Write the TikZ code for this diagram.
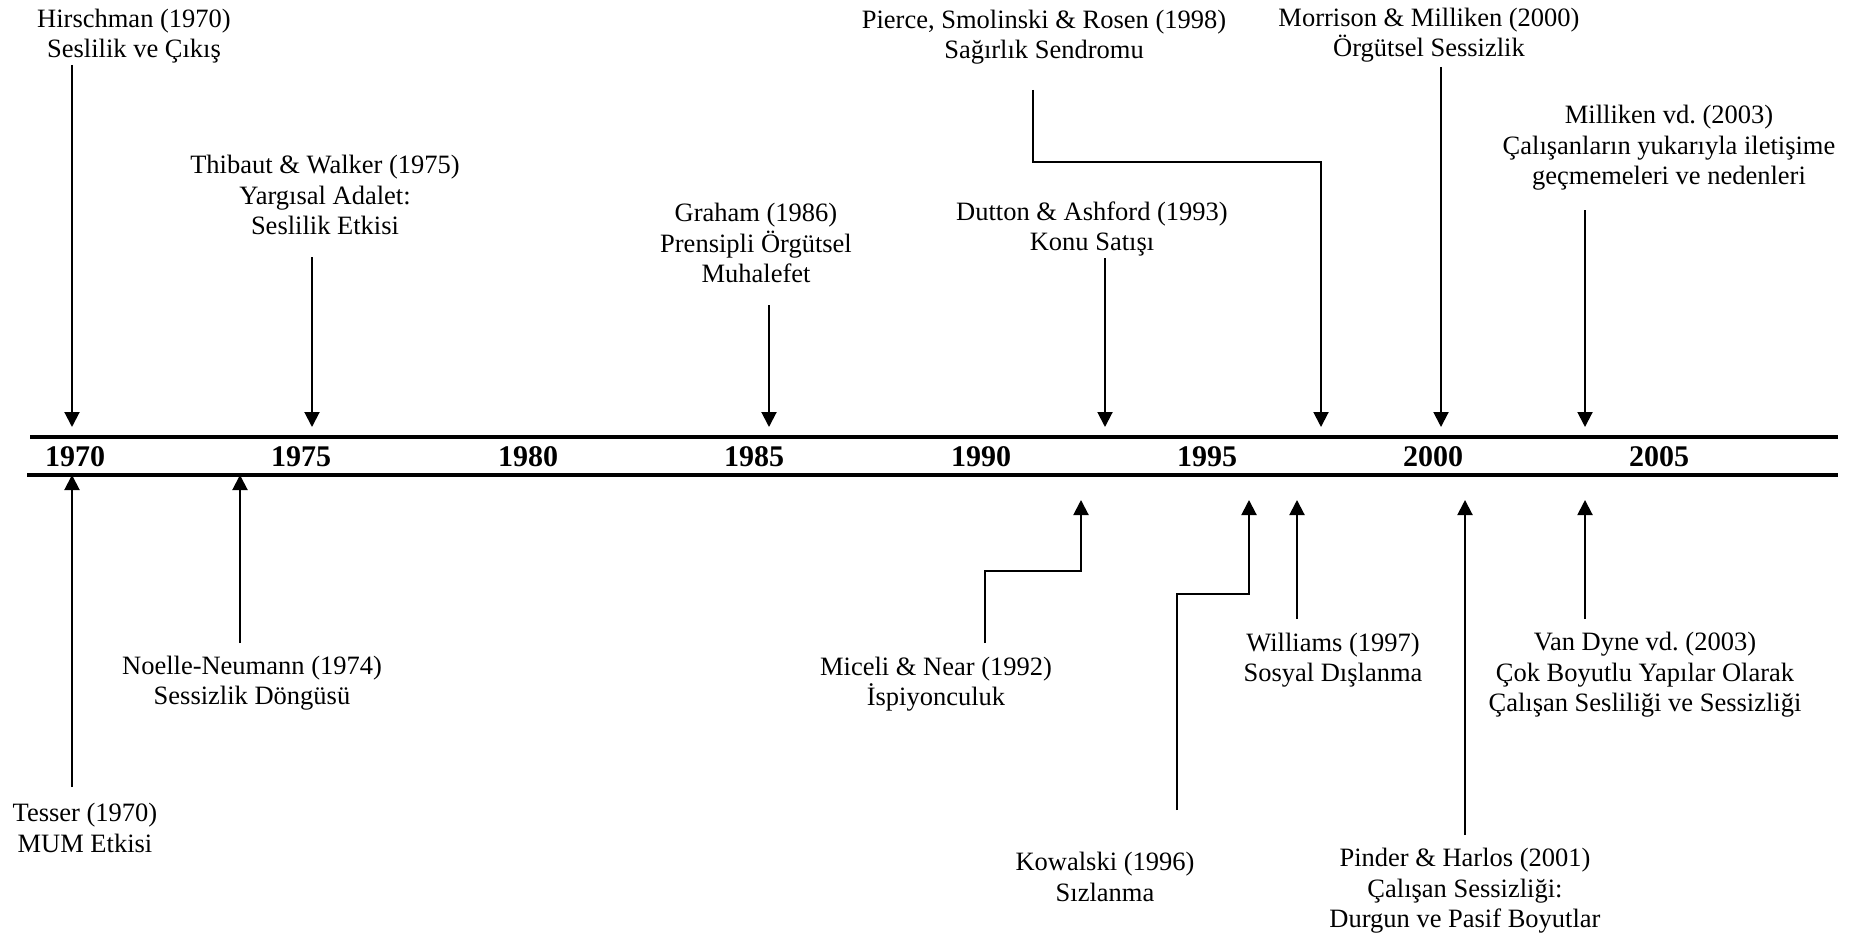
\documentclass[tikz,border=0pt]{standalone}
\usepackage{fontspec}
\setmainfont{Liberation Serif}
\usetikzlibrary{arrows.meta}
\frenchspacing
\begin{document}
\begin{tikzpicture}[x=1pt,y=-1pt,
  lbl/.style={align=center, inner sep=0pt, font=\fontsize{26.5}{30.5}\selectfont},
  yr/.style={inner sep=0pt, font=\fontsize{30}{30}\selectfont\bfseries},
  axisline/.style={line width=3.2pt},
  arr/.style={line width=2pt, -{Triangle[width=15pt,length=15pt]}},
  conn/.style={line width=2pt}]
\useasboundingbox (0,0) rectangle (1863,939);

% axis
\coordinate (tl) at (30,437);
\coordinate (tr) at (1838,437);
\coordinate (bl) at (27,475);
\coordinate (br) at (1838,475);
\draw[axisline] (tl) -- (tr);
\draw[axisline] (bl) -- (br);

% years
\node[yr] (y1970) at (75,457) {1970};
\node[yr] (y1975) at (301,457) {1975};
\node[yr] (y1980) at (528,457) {1980};
\node[yr] (y1985) at (754,457) {1985};
\node[yr] (y1990) at (981,457) {1990};
\node[yr] (y1995) at (1207,457) {1995};
\node[yr] (y2000) at (1433,457) {2000};
\node[yr] (y2005) at (1659,457) {2005};

% top labels
\node[lbl] (hirsch) at (134,36) {Hirschman (1970)\\Seslilik ve Çıkış};
\node[lbl] (thibaut) at (325,195) {Thibaut \& Walker (1975)\\Yargısal Adalet:\\Seslilik Etkisi};
\node[lbl] (graham) at (756,243) {Graham (1986)\\Prensipli Örgütsel\\Muhalefet};
\node[lbl] (pierce) at (1044,37) {Pierce, Smolinski \& Rosen (1998)\\Sağırlık Sendromu};
\node[lbl] (dutton) at (1092,229) {Dutton \& Ashford (1993)\\Konu Satışı};
\node[lbl] (morrison) at (1429,35) {Morrison \& Milliken (2000)\\Örgütsel Sessizlik};
\node[lbl] (milliken) at (1669,148) {Milliken vd. (2003)\\Çalışanların yukarıyla iletişime\\geçmemeleri ve nedenleri};

% bottom labels
\node[lbl] (tesser) at (85,828) {Tesser (1970)\\MUM Etkisi};
\node[lbl] (noelle) at (252,683) {Noelle-Neumann (1974)\\Sessizlik Döngüsü};
\node[lbl] (miceli) at (936,684) {Miceli \& Near (1992)\\İspiyonculuk};
\node[lbl] (kowalski) at (1105,877) {Kowalski (1996)\\Sızlanma};
\node[lbl] (williams) at (1333,660) {Williams (1997)\\Sosyal Dışlanma};
\node[lbl] (pinder) at (1465,891) {Pinder \& Harlos (2001)\\Çalışan Sessizliği:\\Durgun ve Pasif Boyutlar};
\node[lbl] (vandyne) at (1645,675) {Van Dyne vd. (2003)\\Çok Boyutlu Yapılar Olarak\\Çalışan Sesliliği ve Sessizliği};

% top arrows
\coordinate (hs) at (72,65);    \coordinate (ht) at (72,427);
\coordinate (ts) at (312,257);  \coordinate (tt) at (312,427);
\coordinate (gs) at (769,305);  \coordinate (gt) at (769,427);
\coordinate (ds) at (1105,258); \coordinate (dt) at (1105,427);
\coordinate (ps) at (1033,90);  \coordinate (pt) at (1321,427);
\coordinate (ms) at (1441,67);  \coordinate (mt) at (1441,427);
\coordinate (ls) at (1585,210); \coordinate (lt) at (1585,427);
\draw[arr] (hs) -- (ht);
\draw[arr] (ts) -- (tt);
\draw[arr] (gs) -- (gt);
\draw[arr] (ds) -- (dt);
\draw[arr] (ps) -- (1033,162) -- (1321,162) -- (pt);
\draw[arr] (ms) -- (mt);
\draw[arr] (ls) -- (lt);

% bottom arrows
\coordinate (tes) at (72,787);   \coordinate (tet) at (72,475);
\coordinate (nos) at (240,643);  \coordinate (not) at (240,475);
\coordinate (mcs) at (985,643);  \coordinate (mct) at (1081,500);
\coordinate (kos) at (1177,810); \coordinate (kot) at (1249,500);
\coordinate (wis) at (1297,619); \coordinate (wit) at (1297,500);
\coordinate (pis) at (1465,835); \coordinate (pit) at (1465,500);
\coordinate (vds) at (1585,619); \coordinate (vdt) at (1585,500);
\draw[arr] (tes) -- (tet);
\draw[arr] (nos) -- (not);
\draw[arr] (mcs) -- (985,571) -- (1081,571) -- (mct);
\draw[arr] (kos) -- (1177,594) -- (1249,594) -- (kot);
\draw[arr] (wis) -- (wit);
\draw[arr] (pis) -- (pit);
\draw[arr] (vds) -- (vdt);
\end{tikzpicture}
\end{document}
